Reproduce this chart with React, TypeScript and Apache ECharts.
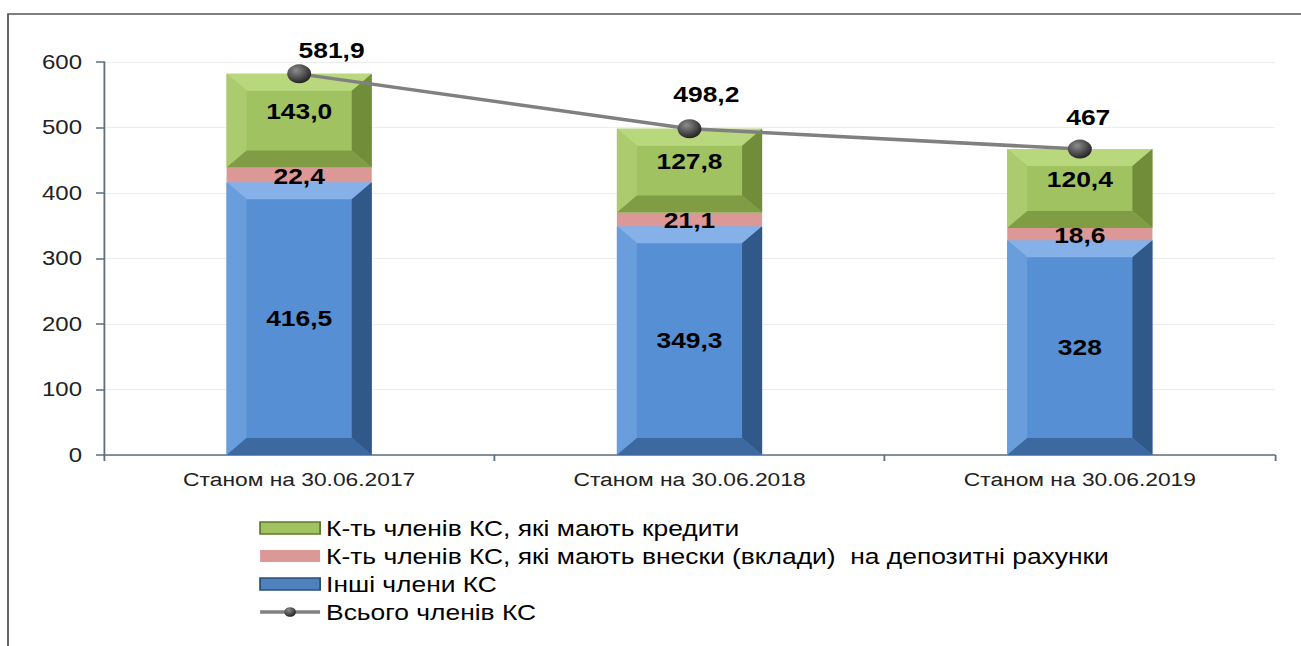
import React, { useEffect, useRef } from "react";
import * as echarts from "echarts";

const categories = ["Станом на 30.06.2017", "Станом на 30.06.2018", "Станом на 30.06.2019"];
const otherMembers = [416.5, 349.3, 328];
const depositMembers = [22.4, 21.1, 18.6];
const creditMembers = [143.0, 127.8, 120.4];
const totalMembers = [581.9, 498.2, 467];
const otherDecimals = [1, 1, 0];
const depositDecimals = [1, 1, 1];
const creditDecimals = [1, 1, 1];
const totalDecimals = [1, 1, 0];
const seriesNames = [
  "К-ть членів КС, які мають кредити",
  "К-ть членів КС, які мають внески (вклади)  на депозитні рахунки",
  "Інші члени КС",
  "Всього членів КС",
];
const yTicks = { min: 0, max: 600, interval: 100 };

// the reference picture is stretched horizontally; the chart is drawn narrower and stretched back
const STRETCH = 1.2;
const PAGE_W = 1301;
const PAGE_H = 646;
const W = Math.ceil(PAGE_W / STRETCH);
const px = (v: number) => v / STRETCH;
// label placement tweaks for the total line (layout, not data)
const totalLabelOffsets = [[27, 7], [14, -4], [7, -1]];

const FONT = "'Liberation Sans', Arial, sans-serif";
const fmt = (v: number, d: number) => v.toFixed(d).replace(".", ",");

type Pal = { face: string; top: string; left: string; right: string; bottom: string; bevel: boolean; labelDy: number };

const makeRender = (pal: Pal, values: number[], decimals: number[]) => (params: any, api: any) => {
  const i = api.value(0);
  const y0 = api.value(1);
  const y1 = api.value(2);
  const p0 = api.coord([i, y0]);
  const p1 = api.coord([i, y1]);
  const bw = api.size([1, 0])[0] * 0.372;
  const left = p0[0] - bw / 2;
  const right = left + bw;
  const top = p1[1];
  const bottom = p0[1];
  const h = bottom - top;
  const children: any[] = [];
  if (pal.bevel) {
    const bx = Math.min(px(20), bw / 2);
    const by = Math.min(17, h / 2);
    children.push({ type: "rect", shape: { x: left, y: top, width: bw, height: h }, style: { fill: pal.face } });
    children.push({ type: "polygon", shape: { points: [[left, top], [right, top], [right - bx, top + by], [left + bx, top + by]] }, style: { fill: pal.top } });
    children.push({ type: "polygon", shape: { points: [[left, top], [left + bx, top + by], [left + bx, bottom - by], [left, bottom]] }, style: { fill: pal.left } });
    children.push({ type: "polygon", shape: { points: [[right, top], [right, bottom], [right - bx, bottom - by], [right - bx, top + by]] }, style: { fill: pal.right } });
    children.push({ type: "polygon", shape: { points: [[left, bottom], [left + bx, bottom - by], [right - bx, bottom - by], [right, bottom]] }, style: { fill: pal.bottom } });
  } else {
    children.push({ type: "rect", shape: { x: left, y: top, width: bw, height: h }, style: { fill: pal.face } });
  }
  children.push({
    type: "text",
    z2: 10,
    style: {
      text: fmt(values[params.dataIndex], decimals[params.dataIndex]),
      x: (left + right) / 2,
      y: (top + bottom) / 2 + pal.labelDy,
      align: "center",
      verticalAlign: "middle",
      font: `bold 22px ${FONT}`,
      fill: "#000",
    },
  });
  return { type: "group", children };
};

export default function App() {
  const ref = useRef<HTMLDivElement>(null);
  useEffect(() => {
    if (!ref.current) return;
    const chart = echarts.init(ref.current, undefined, { renderer: "svg" });
    const blueData = otherMembers.map((v, i) => [i, 0, v]);
    const pinkData = depositMembers.map((v, i) => [i, otherMembers[i], otherMembers[i] + v]);
    const greenData = creditMembers.map((v, i) => [
      i,
      otherMembers[i] + depositMembers[i],
      otherMembers[i] + depositMembers[i] + v,
    ]);
    const green: Pal = { face: "#a0c260", top: "#b9d87e", left: "#acca6e", right: "#718d39", bottom: "#809d45", bevel: true, labelDy: -9 };
    const pink: Pal = { face: "#dc9896", top: "#dc9896", left: "#dc9896", right: "#dc9896", bottom: "#dc9896", bevel: false, labelDy: 1 };
    const blue: Pal = { face: "#568fd3", top: "#86b1e8", left: "#6a9ddc", right: "#30598a", bottom: "#3b69a0", bevel: true, labelDy: 0 };
    const sphere = {
      type: "radial",
      x: 0.38,
      y: 0.32,
      r: 0.7,
      colorStops: [
        { offset: 0, color: "#8c8c8c" },
        { offset: 1, color: "#222222" },
      ],
    };
    chart.setOption({
      animation: false,
      backgroundColor: "#fff",
      graphic: [
        {
          type: "rect",
          shape: { x: px(8), y: 14, width: W + 50, height: 700 },
          style: { fill: "none", stroke: "#555", lineWidth: 1.5 },
          silent: true,
        },
      ],
      grid: { left: px(104), right: W - px(1275), top: 62, bottom: PAGE_H - 455, containLabel: false },
      legend: {
        orient: "vertical",
        left: px(252),
        top: 512,
        itemWidth: px(60),
        itemHeight: 12,
        itemGap: 6,
        textStyle: { fontSize: 22, color: "#000", fontFamily: FONT },
        data: [
          { name: seriesNames[0], icon: "rect", itemStyle: { color: "#a0c260", borderColor: "#5f7a2c", borderWidth: 1.5 } },
          { name: seriesNames[1], icon: "rect", itemStyle: { color: "#dc9896" } },
          { name: seriesNames[2], icon: "rect", itemStyle: { color: "#4f81bd", borderColor: "#2b4f7c", borderWidth: 1.5 } },
          { name: seriesNames[3], lineStyle: { width: 3.5, color: "#808080" } },
        ],
      },
      xAxis: {
        type: "category",
        data: categories,
        axisLine: { lineStyle: { color: "#5b6f7f", width: 1.5 } },
        axisTick: { show: true, length: 6, lineStyle: { color: "#5b6f7f", width: 1.5 } },
        axisLabel: { fontSize: 19, color: "#222", fontFamily: FONT, margin: 15 },
      },
      yAxis: {
        type: "value",
        min: yTicks.min,
        max: yTicks.max,
        interval: yTicks.interval,
        axisLine: { show: true, lineStyle: { color: "#5b6f7f", width: 1.5 } },
        axisTick: { show: true, length: px(8), lineStyle: { color: "#5b6f7f", width: 1.5 } },
        axisLabel: { fontSize: 20, color: "#222", fontFamily: FONT, margin: px(22) },
        splitLine: { lineStyle: { color: "#ededed", width: 1 } },
      },
      series: [
        {
          name: seriesNames[2],
          type: "custom",
          renderItem: makeRender(blue, otherMembers, otherDecimals),
          data: blueData,
          encode: { x: 0, y: [1, 2] },
          itemStyle: { color: "#4f81bd" },
        },
        {
          name: seriesNames[1],
          type: "custom",
          renderItem: makeRender(pink, depositMembers, depositDecimals),
          data: pinkData,
          encode: { x: 0, y: [1, 2] },
          itemStyle: { color: "#dc9896" },
        },
        {
          name: seriesNames[0],
          type: "custom",
          renderItem: makeRender(green, creditMembers, creditDecimals),
          data: greenData,
          encode: { x: 0, y: [1, 2] },
          itemStyle: { color: "#a0c260" },
        },
        {
          name: seriesNames[3],
          type: "line",
          z: 10,
          data: totalMembers.map((v, i) => ({
            value: v,
            label: { offset: totalLabelOffsets[i] },
          })),
          symbol: "circle",
          symbolSize: [px(24), 19],
          lineStyle: { color: "#808080", width: 3.5 },
          itemStyle: { color: sphere as any },
          label: {
            show: true,
            position: "top",
            distance: 10,
            fontSize: 22,
            fontWeight: "bold",
            color: "#000",
            fontFamily: FONT,
            formatter: (p: any) => fmt(totalMembers[p.dataIndex], totalDecimals[p.dataIndex]),
          },
        },
      ],
    });
    return () => chart.dispose();
  }, []);
  return (
    <div
      ref={ref}
      style={{
        position: "fixed",
        left: 0,
        top: 0,
        width: W,
        height: PAGE_H,
        transform: `scaleX(${STRETCH})`,
        transformOrigin: "0 0",
      }}
    />
  );
}
